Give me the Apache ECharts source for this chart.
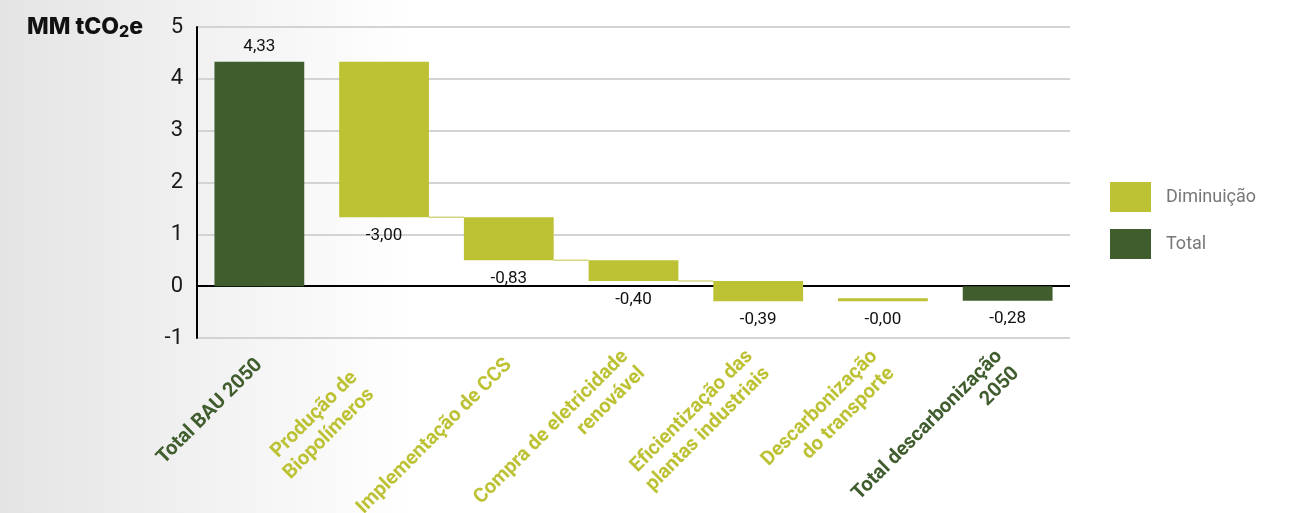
<!DOCTYPE html>
<html>
<head>
<meta charset="utf-8">
<script src="https://cdn.jsdelivr.net/npm/echarts@6/dist/echarts.min.js"></script>
<style>
  html, body { margin: 0; padding: 0; background: #fff; }
  #chart { width: 1291px; height: 513px; }
</style>
</head>
<body>
<div id="chart"></div>
<script>
// Emissions waterfall, MM tCO2e
const categories = [
  'Total BAU 2050',
  'Produção de\nBiopolímeros',
  'Implementação de CCS',
  'Compra de eletricidade\nrenovável',
  'Eficientização das\nplantas industriais',
  'Descarbonização\ndo transporte',
  'Total descarbonização\n2050'
];
const categoryKinds = ['total', 'dec', 'dec', 'dec', 'dec', 'dec', 'total'];
const bauTotal = 4.33;
const reductions = [-3.00, -0.83, -0.40, -0.39, -0.00];
const finalTotal = -0.28;
const yMin = -1, yMax = 5, yStep = 1;

const GREEN_DARK = '#405d2e';
const GREEN_LIGHT = '#bdc235';

// floating bars: [category index, start, end, value]
const totalData = [[0, 0, bauTotal, bauTotal]];
const decData = [];
let level = bauTotal;
reductions.forEach((v, k) => {
  const start = level;
  level = Math.round((level + v) * 100) / 100;
  decData.push([k + 1, start, level, v]);
});
totalData.push([categories.length - 1, 0, finalTotal, finalTotal]);

// step connectors from one reduction to the next
const connectorData = decData.slice(0, 3).map(d => [d[0], d[2]]);

const BAR_RATIO = 0.72;

function fmt(v, negative) {
  const s = Math.abs(v).toFixed(2).replace('.', ',');
  return (negative ? '-' : '') + s;
}

function barRenderer(isDecrease) {
  return function (params, api) {
    const x = api.value(0);
    const s = api.value(1);
    const e = api.value(2);
    const v = api.value(3);
    const p1 = api.coord([x, s]);
    const p2 = api.coord([x, e]);
    const bw = api.size([1, 0])[0] * BAR_RATIO;
    let top = Math.min(p1[1], p2[1]);
    let bottom = Math.max(p1[1], p2[1]);
    if (bottom - top < 3) { top = bottom - 3; }
    const negative = isDecrease || v < 0;
    const labelY = negative ? bottom + 10 : top - 6;
    return {
      type: 'group',
      children: [
        {
          type: 'rect',
          shape: { x: p1[0] - bw / 2, y: top, width: bw, height: bottom - top },
          style: { fill: api.visual('color') }
        },
        {
          type: 'text',
          style: {
            text: fmt(v, negative),
            x: p1[0],
            y: labelY,
            align: 'center',
            verticalAlign: negative ? 'top' : 'bottom',
            fontFamily: 'Roboto',
            fontSize: 17,
            fill: '#111'
          }
        }
      ]
    };
  };
}

const chart = echarts.init(document.getElementById('chart'), null, { renderer: 'canvas' });

const splitColors = [];
for (let t = yMin; t <= yMax; t += yStep) splitColors.push(t === 0 ? '#000' : '#d3d3d3');

chart.setOption({
  animation: false,
  backgroundColor: {
    type: 'linear', x: 0, y: 0, x2: 1, y2: 0,
    colorStops: [
      { offset: 0, color: '#e4e4e4' },
      { offset: 0.32, color: '#ffffff' },
      { offset: 1, color: '#ffffff' }
    ]
  },
  title: {
    left: 22,
    top: 8,
    text: '{a|MM tCO}{b|2}{a|e}',
    textStyle: {
      rich: {
        a: { fontFamily: 'Inter', fontWeight: 800, fontSize: 23, color: '#111', lineHeight: 28 },
        b: { fontFamily: 'Inter', fontWeight: 800, fontSize: 16, color: '#111', lineHeight: 28, padding: [10, 0, 0, 0] }
      }
    }
  },
  legend: {
    orient: 'vertical',
    left: 1105,
    top: 177,
    itemWidth: 41,
    itemHeight: 30,
    itemGap: 17,
    icon: 'rect',
    data: ['Diminuição', 'Total'],
    textStyle: { color: '#777', fontFamily: 'Roboto', fontSize: 18, padding: [0, 0, 0, 10] }
  },
  grid: { left: 197, right: 221, top: 27, bottom: 175, containLabel: false, outerBoundsMode: 'none' },
  xAxis: {
    type: 'category',
    data: categories,
    axisLine: { show: false, onZero: false },
    axisTick: { show: false },
    splitLine: { show: false },
    axisLabel: {
      rotate: 45,
      margin: 24,
      interval: 0,
      fontFamily: 'Roboto',
      fontWeight: 'bold',
      fontSize: 20,
      lineHeight: 24,
      color: (val, idx) => categoryKinds[idx] === 'total' ? GREEN_DARK : GREEN_LIGHT,
      formatter: (val, idx) => idx === 1
        ? val.split('\n').map(line => '{shift|' + line + '}').join('\n')
        : val,
      rich: {
        shift: { fontFamily: 'Roboto', fontWeight: 'bold', fontSize: 20, lineHeight: 24, padding: [0, 30, 0, 0] }
      }
    }
  },
  yAxis: {
    type: 'value',
    min: yMin,
    max: yMax,
    interval: yStep,
    axisLine: { show: true, lineStyle: { color: '#000', width: 2 } },
    axisTick: { show: false },
    axisLabel: { fontFamily: 'Roboto', fontSize: 22, color: '#1a1a1a', margin: 14 },
    splitLine: { show: true, lineStyle: { color: splitColors, width: 2 } }
  },
  series: [
    {
      name: 'Connector',
      type: 'custom',
      silent: true,
      data: connectorData,
      encode: { x: 0, y: 1 },
      renderItem: function (params, api) {
        const x = api.value(0);
        const p = api.coord([x, api.value(1)]);
        const band = api.size([1, 0])[0];
        const bw = band * BAR_RATIO;
        return {
          type: 'line',
          shape: { x1: p[0] + bw / 2, y1: p[1], x2: p[0] + band - bw / 2, y2: p[1] },
          style: { stroke: '#d3d783', lineWidth: 1.5 }
        };
      }
    },
    {
      name: 'Diminuição',
      type: 'custom',
      itemStyle: { color: GREEN_LIGHT },
      data: decData,
      encode: { x: 0, y: [1, 2] },
      renderItem: barRenderer(true)
    },
    {
      name: 'Total',
      type: 'custom',
      itemStyle: { color: GREEN_DARK },
      data: totalData,
      encode: { x: 0, y: [1, 2] },
      renderItem: barRenderer(false)
    }
  ]
});
</script>
</body>
</html>
